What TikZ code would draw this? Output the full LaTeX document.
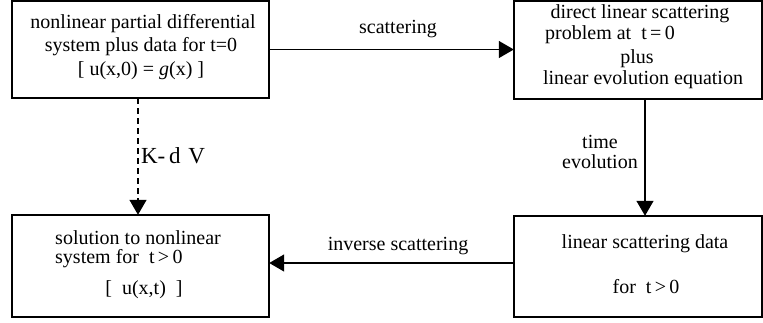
\documentclass[tikz,border=0pt]{standalone}
\usepackage{fontspec}
\setmainfont{Liberation Serif}
\usetikzlibrary{arrows.meta}
\begin{document}
\begin{tikzpicture}[x=1pt,y=-1pt,
  box/.style={draw,line width=1.6pt,inner sep=0pt},
  txt/.style={inner sep=0pt,font=\fontsize{20}{20}\selectfont},
  lbl/.style={inner sep=0pt,font=\fontsize{20}{20}\selectfont},
  flow/.style={line width=1.3pt,-{Triangle[length=15pt,width=17pt]}}]
\useasboundingbox (0,0) rectangle (763,322);
% boxes
\path[box] (12,1) rectangle (269,98);
\node[inner sep=0pt,minimum width=257pt,minimum height=97pt] (b1) at (140.5,49.5) {};
\path[box] (514,1) rectangle (762,99);
\node[inner sep=0pt,minimum width=248pt,minimum height=98pt] (b2) at (638,50) {};
\path[box] (12,215) rectangle (269,317);
\node[inner sep=0pt,minimum width=257pt,minimum height=102pt] (b3) at (140.5,266) {};
\path[box] (514,216) rectangle (762,317);
\node[inner sep=0pt,minimum width=248pt,minimum height=101pt] (b4) at (638,266.5) {};
% box texts
\node[txt] (t11) at (143,24) {nonlinear partial differential};
\node[txt] (t12) at (141,47) {system plus data for t=0};
\node[txt] (t13) at (141,71) {[ u(x,0) =  \textit{g}(x)  ]};
\node[txt] (t21) at (640,14) {direct linear scattering};
\node[txt,anchor=west] (t22) at (545,35) {problem at\ \ t\,=\,0};
\node[txt] (t23) at (637,59) {plus};
\node[txt] (t24) at (643,80) {linear evolution equation};
\node[txt] (t31) at (138,238) {solution to nonlinear};
\node[txt,anchor=west] (t32) at (55,259) {system for\ \ t\,>\,0};
\node[txt] (t33) at (144,290) {[\ \ u(x,t)\ \ ]};
\node[txt] (t41) at (645,244) {linear scattering data};
\node[txt] (t42) at (646,287) {for\ \ t\,>\,0};
% connectors
\draw[flow] (b1.east) -- (b1.east -| b2.west);
\draw[flow] (b2.south -| 645,0) -- (b4.north -| 645,0);
\draw[flow] (b4.west |- 0,263) -- (b3.east |- 0,263);
\draw[flow,dash pattern=on 6pt off 4pt] (b1.south -| 138,0) -- (b3.north -| 138,0);
% connector labels
\node[lbl] (l1) at (398,29) {scattering};
\node[lbl] (l2) at (600,142) {time};
\node[lbl] (l3) at (600,162) {evolution};
\node[lbl] (l4) at (398,246) {inverse scattering};
\node[lbl,font=\fontsize{23}{23}\selectfont] (l5) at (173,156) {K-\,d\,\,V};
\end{tikzpicture}
\end{document}
